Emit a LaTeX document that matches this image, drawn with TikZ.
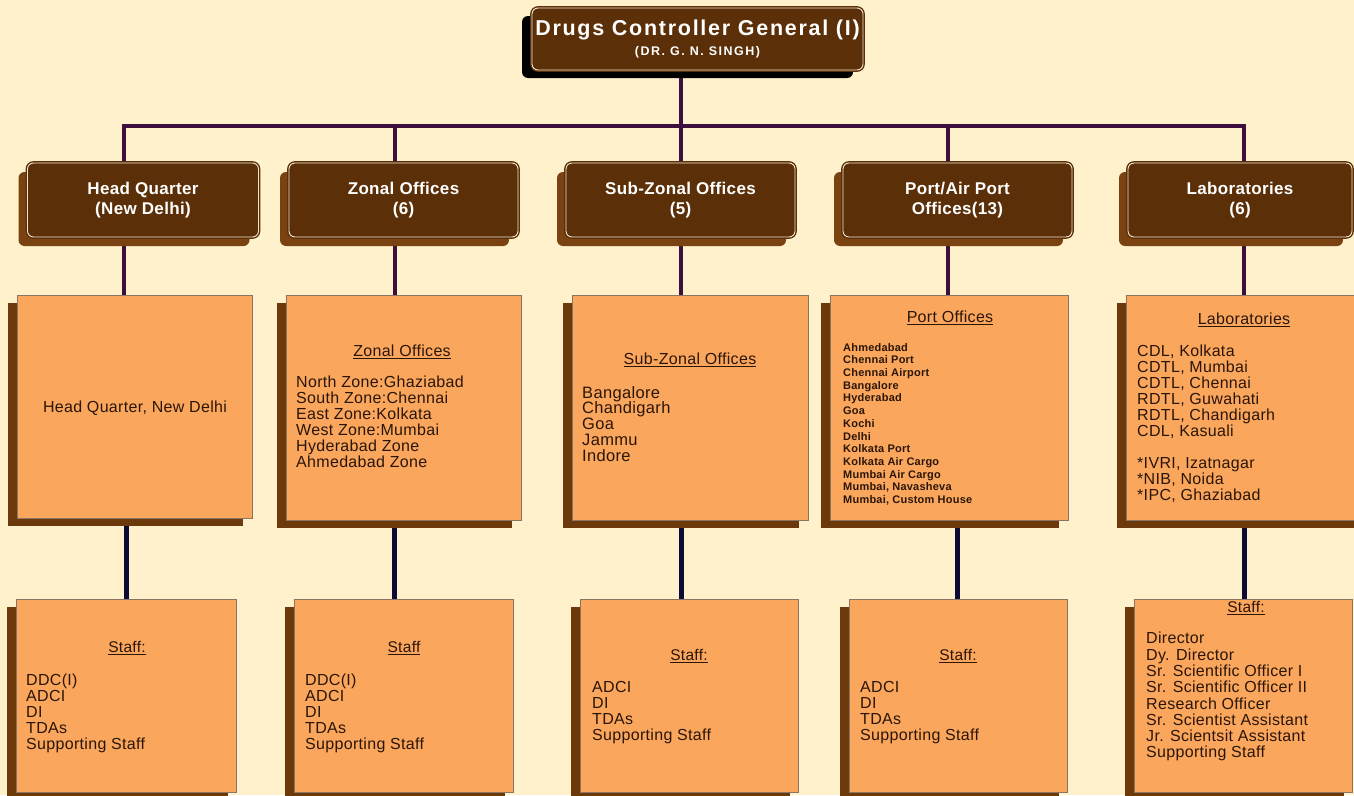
\documentclass[tikz,border=0pt]{standalone}
\usepackage{fontspec}
\setmainfont{Liberation Sans}
\usetikzlibrary{shadows}
\definecolor{bgc}{HTML}{FEF1CB}
\definecolor{dbrown}{HTML}{5B2F08}
\definecolor{sbrown}{HTML}{7A4210}
\definecolor{orangef}{HTML}{FBA65D}
\definecolor{oshadow}{HTML}{6C3A0A}
\definecolor{oborder}{HTML}{8C7462}
\definecolor{purp}{HTML}{3E0E3E}
\definecolor{navy}{HTML}{0B0B35}
\definecolor{txt}{HTML}{2A1608}
\definecolor{cream}{HTML}{F3E6D0}
\pgfdeclarelayer{bg}\pgfdeclarelayer{wires}\pgfsetlayers{bg,wires,main}
\newfontfamily\spaced[LetterSpace=2]{Liberation Sans}
\newfontfamily\wide[LetterSpace=8]{Liberation Sans}
\newfontfamily\wider[LetterSpace=12]{Liberation Sans}
\tikzset{
 topbox/.style={rectangle, rounded corners=6pt, fill=dbrown, draw=dbrown, line width=1.4pt, double=cream, double distance=0.9pt, minimum width=331pt, minimum height=62pt, text=white, align=center, inner sep=0pt, general shadow={shadow xshift=-10pt, shadow yshift=-8pt, fill=black}},
 headbox/.style={rectangle, rounded corners=6pt, fill=dbrown, draw=dbrown, line width=1.4pt, double=cream, double distance=0.9pt, minimum height=74pt, text=white, align=center, inner sep=0pt, font=\spaced\bfseries\fontsize{17}{20.5}\selectfont, general shadow={shadow xshift=-9pt, shadow yshift=-9pt, fill=sbrown}},
 listbox/.style={rectangle, fill=orangef, draw=oborder, line width=0.8pt, inner sep=0pt, general shadow={shadow xshift=-9pt, shadow yshift=-8pt, fill=oshadow}},
 staffbox/.style={listbox, general shadow={shadow xshift=-8pt, shadow yshift=-10pt, fill=oshadow}},
 uplink/.style={draw=purp, line width=4pt},
 downlink/.style={draw=navy, line width=5pt},
 lst/.style={anchor=north west, align=left, inner sep=0pt, text=txt, font=\spaced\fontsize{16}{16}\selectfont},
 ttl/.style={inner sep=0pt, text=txt, font=\spaced\fontsize{16}{16}\selectfont},
 sttl/.style={inner sep=0pt, text=txt, font=\spaced\fontsize{15.5}{16}\selectfont},
}
\begin{document}
\begin{tikzpicture}[x=1pt,y=-1pt]
\useasboundingbox (0,0) rectangle (1354,795);
\clip (0,0) rectangle (1354,795);
\begin{pgfonlayer}{bg}
\fill[bgc] (0,0) rectangle (1354,795);
\end{pgfonlayer}

% top
\node[topbox] (top) at (697.5,39) {{\wide\bfseries\fontsize{21.5}{22}\selectfont Drugs Controller General (I)}\\[5pt]{\wider\bfseries\fontsize{12.5}{13}\selectfont (DR. G. N. SINGH)}};

% level 2
\node[headbox, minimum width=231pt] (hq) at (143,200) {Head Quarter\\(New Delhi)};
\node[headbox, minimum width=229pt] (zo) at (403.5,200) {Zonal Offices\\(6)};
\node[headbox, minimum width=229pt] (sz) at (680.5,200) {Sub-Zonal Offices\\(5)};
\node[headbox, minimum width=229pt] (po) at (957.5,200) {Port/Air Port\\Offices(13)};
\node[headbox, minimum width=224pt] (lb) at (1240,200) {Laboratories\\(6)};

% level 3
\node[listbox, minimum width=235pt, minimum height=223pt] (hq3) at (134.5,406.5) {};
\node[listbox, minimum width=235pt, minimum height=225pt] (zo3) at (403.5,407.5) {};
\node[listbox, minimum width=236pt, minimum height=225pt] (sz3) at (690,407.5) {};
\node[listbox, minimum width=238pt, minimum height=225pt] (po3) at (949,407.5) {};
\node[listbox, minimum width=240pt, minimum height=225pt] (lb3) at (1246,407.5) {};

% level 4
\node[staffbox, minimum width=220pt, minimum height=193pt] (hq4) at (126,695.5) {};
\node[staffbox, minimum width=219pt, minimum height=193pt] (zo4) at (403.5,695.5) {};
\node[staffbox, minimum width=218pt, minimum height=193pt] (sz4) at (689,695.5) {};
\node[staffbox, minimum width=218pt, minimum height=193pt] (po4) at (958,695.5) {};
\node[staffbox, minimum width=218pt, minimum height=193pt] (lb4) at (1243,695.5) {};

% connectors
\coordinate (jA) at (124,126);
\coordinate (jB) at (395,126);
\coordinate (jC) at (681,126);
\coordinate (jD) at (948,126);
\coordinate (jE) at (1244,126);
\coordinate (kA) at (126,560);
\coordinate (kB) at (394,560);
\coordinate (kC) at (681,560);
\coordinate (kD) at (957,560);
\coordinate (kE) at (1244,560);
\begin{pgfonlayer}{wires}
\draw[uplink] (top.south -| jC) -- (jC);
\draw[uplink] (hq.north -| jA) -- (jA) -- (jE) -- (lb.north -| jE);
\draw[uplink] (jB) -- (zo.north -| jB);
\draw[uplink] (jC) -- (sz.north -| jC);
\draw[uplink] (jD) -- (po.north -| jD);
\draw[uplink] (hq.south -| jA) -- (hq3.north -| jA);
\draw[uplink] (zo.south -| jB) -- (zo3.north -| jB);
\draw[uplink] (sz.south -| jC) -- (sz3.north -| jC);
\draw[uplink] (po.south -| jD) -- (po3.north -| jD);
\draw[uplink] (lb.south -| jE) -- (lb3.north -| jE);
\draw[downlink] (hq3.south -| kA) -- (hq4.north -| kA);
\draw[downlink] (zo3.south -| kB) -- (zo4.north -| kB);
\draw[downlink] (sz3.south -| kC) -- (sz4.north -| kC);
\draw[downlink] (po3.south -| kD) -- (po4.north -| kD);
\draw[downlink] (lb3.south -| kE) -- (lb4.north -| kE);
\end{pgfonlayer}

% level 3 texts
\node[ttl] (t1) at (135,408) {Head Quarter, New Delhi};
\node[ttl] (t2) at (402,352) {\underline{Zonal Offices}};
\node[lst] (l2) at (296,376) {North Zone:Ghaziabad\\South Zone:Chennai\\East Zone:Kolkata\\West Zone:Mumbai\\Hyderabad Zone\\Ahmedabad Zone};
\node[ttl] (t3) at (690,360) {\underline{Sub-Zonal Offices}};
\node[lst, font=\spaced\fontsize{16.5}{15.8}\selectfont] (l3) at (582,386) {Bangalore\\Chandigarh\\Goa\\Jammu\\Indore};
\node[ttl] (t4) at (950,318) {\underline{Port Offices}};
\node[lst, font=\spaced\bfseries\fontsize{11}{12.7}\selectfont] (l4) at (843,343) {Ahmedabad\\Chennai Port\\Chennai Airport\\Bangalore\\Hyderabad\\Goa\\Kochi\\Delhi\\Kolkata Port\\Kolkata Air Cargo\\Mumbai Air Cargo\\Mumbai, Navasheva\\Mumbai, Custom House};
\node[ttl] (t5) at (1244,320) {\underline{Laboratories}};
\node[lst] (l5) at (1137,345) {CDL, Kolkata\\CDTL, Mumbai\\CDTL, Chennai\\RDTL, Guwahati\\RDTL, Chandigarh\\CDL, Kasuali\\[16pt]*IVRI, Izatnagar\\*NIB, Noida\\*IPC, Ghaziabad};

% level 4 texts
\node[sttl] (s1) at (127,648) {\underline{Staff:}};
\node[lst] (m1) at (26,674) {DDC(I)\\ADCI\\DI\\TDAs\\Supporting Staff};
\node[sttl] (s2) at (404,648) {\underline{Staff}};
\node[lst] (m2) at (305,674) {DDC(I)\\ADCI\\DI\\TDAs\\Supporting Staff};
\node[sttl] (s3) at (689,656) {\underline{Staff:}};
\node[lst] (m3) at (592,681) {ADCI\\DI\\TDAs\\Supporting Staff};
\node[sttl] (s4) at (958,656) {\underline{Staff:}};
\node[lst] (m4) at (860,681) {ADCI\\DI\\TDAs\\Supporting Staff};
\node[sttl] (s5) at (1246,608) {\underline{Staff:}};
\node[lst, font=\spaced\fontsize{16}{16.3}\selectfont] (m5) at (1146,632) {Director\\Dy. Director\\Sr. Scientific Officer I\\Sr. Scientific Officer II\\Research Officer\\Sr. Scientist Assistant\\Jr. Scientsit Assistant\\Supporting Staff};
\end{tikzpicture}
\end{document}
